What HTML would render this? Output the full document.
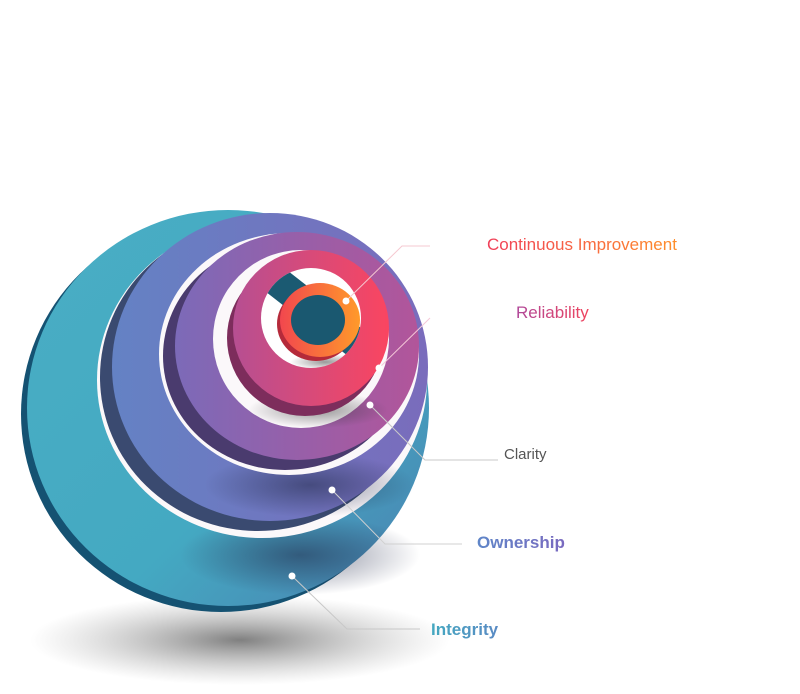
<!DOCTYPE html>
<html><head><meta charset="utf-8"><style>
html,body{margin:0;padding:0;background:#fff;width:800px;height:694px;overflow:hidden}
svg{display:block}
text{font-family:"Liberation Sans",sans-serif}
</style></head><body>
<svg width="800" height="694" viewBox="0 0 800 694" xmlns="http://www.w3.org/2000/svg">
<defs>
<radialGradient id="sh" cx="50%" cy="50%" r="50%"><stop offset="0" stop-color="#555" stop-opacity=".75"/><stop offset="1" stop-color="#999" stop-opacity="0"/></radialGradient>
<linearGradient id="teal" x1="0" y1="0" x2="1" y2="1"><stop offset="0" stop-color="#49aec4"/><stop offset=".6" stop-color="#44a9c2"/><stop offset="1" stop-color="#4a7fb0"/></linearGradient>
<linearGradient id="blue" x1="0" y1="0" x2="1" y2="0"><stop offset="0" stop-color="#6482c4"/><stop offset="1" stop-color="#7a6cbc"/></linearGradient>
<linearGradient id="purp" x1="0" y1="0" x2="1" y2="0"><stop offset="0" stop-color="#7c6ab8"/><stop offset="1" stop-color="#b2559a"/></linearGradient>
<linearGradient id="pink" x1="0" y1="0" x2="1" y2="0"><stop offset="0" stop-color="#b64f92"/><stop offset="1" stop-color="#fa4560"/></linearGradient>
<linearGradient id="org" x1="0" y1="0" x2="1" y2="0"><stop offset="0" stop-color="#f2474e"/><stop offset="1" stop-color="#ff9a2a"/></linearGradient>
<linearGradient id="t1" x1="0" y1="0" x2="1" y2="0"><stop offset="0" stop-color="#f0405a"/><stop offset="1" stop-color="#ff8f2a"/></linearGradient>
<linearGradient id="t2" x1="0" y1="0" x2="1" y2="0"><stop offset="0" stop-color="#b0489a"/><stop offset="1" stop-color="#f0455e"/></linearGradient>
<linearGradient id="t3" x1="0" y1="0" x2="1" y2="0"><stop offset="0" stop-color="#5f86c8"/><stop offset="1" stop-color="#7a6ac0"/></linearGradient>
<linearGradient id="t4" x1="0" y1="0" x2="1" y2="0"><stop offset="0" stop-color="#44a8c0"/><stop offset="1" stop-color="#5a8ac4"/></linearGradient>
<radialGradient id="dk" cx="50%" cy="50%" r="50%"><stop offset="0" stop-color="#222a4a" stop-opacity=".55"/><stop offset="1" stop-color="#222a4a" stop-opacity="0"/></radialGradient>
<radialGradient id="hs" cx="50%" cy="50%" r="50%"><stop offset="0" stop-color="#333" stop-opacity=".5"/><stop offset="1" stop-color="#333" stop-opacity="0"/></radialGradient>
<clipPath id="ph"><ellipse cx="311" cy="318" rx="50" ry="50"/></clipPath>
</defs>
<ellipse cx="240" cy="640" rx="210" ry="45" fill="url(#sh)"/>
<!-- teal -->
<ellipse cx="221" cy="414" rx="200" ry="198" fill="#155272"/>
<ellipse cx="228" cy="408" rx="201" ry="198" fill="url(#teal)"/>
<ellipse cx="300" cy="555" rx="120" ry="40" fill="url(#dk)"/>
<ellipse cx="262" cy="380" rx="165" ry="158" fill="#fbf8fa"/>
<!-- blue -->
<ellipse cx="258" cy="377" rx="158" ry="154" fill="#3a4a70"/>
<ellipse cx="270" cy="367" rx="158" ry="154" fill="url(#blue)"/>
<ellipse cx="310" cy="485" rx="105" ry="32" fill="url(#dk)"/>
<ellipse cx="289" cy="354" rx="130" ry="121" fill="#fbf8fa"/>
<!-- purple -->
<ellipse cx="285" cy="356" rx="122" ry="114" fill="#4a3b6e"/>
<ellipse cx="297" cy="346" rx="122" ry="114" fill="url(#purp)"/>
<ellipse cx="301" cy="339" rx="88" ry="89" fill="#fbf8fa"/>
<ellipse cx="318" cy="410" rx="70" ry="18" fill="url(#hs)"/>
<!-- pink -->
<ellipse cx="305" cy="338" rx="78" ry="78" fill="#7d2d5c"/>
<ellipse cx="311" cy="328" rx="78" ry="78" fill="url(#pink)"/>
<g clip-path="url(#ph)">
<rect x="250" y="260" width="130" height="120" fill="#fff"/>
<rect x="240" y="300" width="170" height="30" fill="#1b5a72" transform="rotate(38 320 315)"/>
<ellipse cx="325" cy="362" rx="35" ry="8" fill="url(#hs)"/>
</g>
<!-- orange -->
<ellipse cx="316" cy="324" rx="39" ry="37" fill="#b52a3a"/>
<ellipse cx="320" cy="320" rx="40" ry="37" fill="url(#org)"/>
<ellipse cx="318" cy="320" rx="27" ry="25" fill="#1a5870"/>
<!-- connectors -->
<g fill="none" stroke-width="1">
<polyline points="346,301 402,246 430,246" stroke="#f5c8d0"/>
<polyline points="379,368 430,318" stroke="#f5c8d8"/>
<polyline points="370,405 425,460 498,460" stroke="#c8c8c8"/>
<polyline points="332,490 385,544 462,544" stroke="#d0d0d0"/>
<polyline points="292,576 347,629 420,629" stroke="#c8c8c8"/>
</g>
<g fill="#fff"><circle cx="346" cy="301" r="3.5"/><circle cx="379" cy="368" r="3.5"/><circle cx="370" cy="405" r="3.5"/><circle cx="332" cy="490" r="3.5"/><circle cx="292" cy="576" r="3.5"/></g>
<text x="487" y="250" font-size="17" fill="url(#t1)">Continuous Improvement</text>
<text x="516" y="318" font-size="17" fill="url(#t2)">Reliability</text>
<text x="504" y="459" font-size="15" fill="#555">Clarity</text>
<text x="477" y="548" font-size="17" font-weight="bold" fill="url(#t3)">Ownership</text>
<text x="431" y="635" font-size="17" font-weight="bold" fill="url(#t4)">Integrity</text>
</svg>
</body></html>
